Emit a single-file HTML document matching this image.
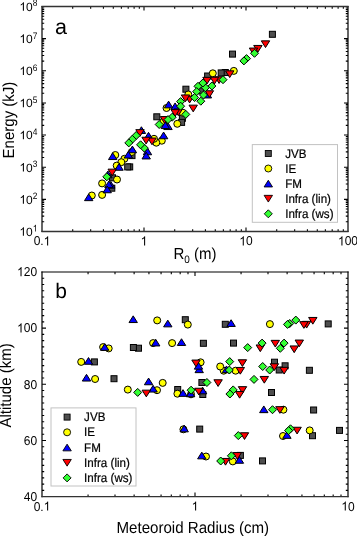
<!DOCTYPE html>
<html><head><meta charset="utf-8"><style>
html,body{margin:0;padding:0;background:#fff;}
body{width:357px;height:536px;overflow:hidden;}
svg{display:block;}
</style></head><body>
<svg width="357" height="536" viewBox="0 0 357 536">
<rect width="357" height="536" fill="#fff"/>
<path d="M72.71 231.5v-2.2M72.71 6.5v2.2M90.67 231.5v-2.2M90.67 6.5v2.2M103.41 231.5v-2.2M103.41 6.5v2.2M113.29 231.5v-2.2M113.29 6.5v2.2M121.37 231.5v-2.2M121.37 6.5v2.2M128.20 231.5v-2.2M128.20 6.5v2.2M134.12 231.5v-2.2M134.12 6.5v2.2M139.33 231.5v-2.2M139.33 6.5v2.2M144.00 231.5v-4.0M144.00 6.5v4.0M174.71 231.5v-2.2M174.71 6.5v2.2M192.67 231.5v-2.2M192.67 6.5v2.2M205.41 231.5v-2.2M205.41 6.5v2.2M215.29 231.5v-2.2M215.29 6.5v2.2M223.37 231.5v-2.2M223.37 6.5v2.2M230.20 231.5v-2.2M230.20 6.5v2.2M236.12 231.5v-2.2M236.12 6.5v2.2M241.33 231.5v-2.2M241.33 6.5v2.2M246.00 231.5v-4.0M246.00 6.5v4.0M276.71 231.5v-2.2M276.71 6.5v2.2M294.67 231.5v-2.2M294.67 6.5v2.2M307.41 231.5v-2.2M307.41 6.5v2.2M317.29 231.5v-2.2M317.29 6.5v2.2M325.37 231.5v-2.2M325.37 6.5v2.2M332.20 231.5v-2.2M332.20 6.5v2.2M338.12 231.5v-2.2M338.12 6.5v2.2M343.33 231.5v-2.2M343.33 6.5v2.2M42.0 221.82h2.2M348.0 221.82h-2.2M42.0 216.16h2.2M348.0 216.16h-2.2M42.0 212.15h2.2M348.0 212.15h-2.2M42.0 209.03h2.2M348.0 209.03h-2.2M42.0 206.49h2.2M348.0 206.49h-2.2M42.0 204.34h2.2M348.0 204.34h-2.2M42.0 202.47h2.2M348.0 202.47h-2.2M42.0 200.83h2.2M348.0 200.83h-2.2M42.0 199.36h4.0M348.0 199.36h-4.0M42.0 189.68h2.2M348.0 189.68h-2.2M42.0 184.02h2.2M348.0 184.02h-2.2M42.0 180.01h2.2M348.0 180.01h-2.2M42.0 176.89h2.2M348.0 176.89h-2.2M42.0 174.35h2.2M348.0 174.35h-2.2M42.0 172.19h2.2M348.0 172.19h-2.2M42.0 170.33h2.2M348.0 170.33h-2.2M42.0 168.69h2.2M348.0 168.69h-2.2M42.0 167.21h4.0M348.0 167.21h-4.0M42.0 157.54h2.2M348.0 157.54h-2.2M42.0 151.88h2.2M348.0 151.88h-2.2M42.0 147.86h2.2M348.0 147.86h-2.2M42.0 144.75h2.2M348.0 144.75h-2.2M42.0 142.20h2.2M348.0 142.20h-2.2M42.0 140.05h2.2M348.0 140.05h-2.2M42.0 138.19h2.2M348.0 138.19h-2.2M42.0 136.54h2.2M348.0 136.54h-2.2M42.0 135.07h4.0M348.0 135.07h-4.0M42.0 125.40h2.2M348.0 125.40h-2.2M42.0 119.74h2.2M348.0 119.74h-2.2M42.0 115.72h2.2M348.0 115.72h-2.2M42.0 112.60h2.2M348.0 112.60h-2.2M42.0 110.06h2.2M348.0 110.06h-2.2M42.0 107.91h2.2M348.0 107.91h-2.2M42.0 106.04h2.2M348.0 106.04h-2.2M42.0 104.40h2.2M348.0 104.40h-2.2M42.0 102.93h4.0M348.0 102.93h-4.0M42.0 93.25h2.2M348.0 93.25h-2.2M42.0 87.59h2.2M348.0 87.59h-2.2M42.0 83.58h2.2M348.0 83.58h-2.2M42.0 80.46h2.2M348.0 80.46h-2.2M42.0 77.92h2.2M348.0 77.92h-2.2M42.0 75.76h2.2M348.0 75.76h-2.2M42.0 73.90h2.2M348.0 73.90h-2.2M42.0 72.26h2.2M348.0 72.26h-2.2M42.0 70.79h4.0M348.0 70.79h-4.0M42.0 61.11h2.2M348.0 61.11h-2.2M42.0 55.45h2.2M348.0 55.45h-2.2M42.0 51.43h2.2M348.0 51.43h-2.2M42.0 48.32h2.2M348.0 48.32h-2.2M42.0 45.77h2.2M348.0 45.77h-2.2M42.0 43.62h2.2M348.0 43.62h-2.2M42.0 41.76h2.2M348.0 41.76h-2.2M42.0 40.11h2.2M348.0 40.11h-2.2M42.0 38.64h4.0M348.0 38.64h-4.0M42.0 28.97h2.2M348.0 28.97h-2.2M42.0 23.31h2.2M348.0 23.31h-2.2M42.0 19.29h2.2M348.0 19.29h-2.2M42.0 16.18h2.2M348.0 16.18h-2.2M42.0 13.63h2.2M348.0 13.63h-2.2M42.0 11.48h2.2M348.0 11.48h-2.2M42.0 9.61h2.2M348.0 9.61h-2.2M42.0 7.97h2.2M348.0 7.97h-2.2" stroke="#000" stroke-width="1.1" fill="none"/>
<path d="M88.06 496.6v-2.2M88.06 272.0v2.2M115.00 496.6v-2.2M115.00 272.0v2.2M134.12 496.6v-2.2M134.12 272.0v2.2M148.94 496.6v-2.2M148.94 272.0v2.2M161.06 496.6v-2.2M161.06 272.0v2.2M171.30 496.6v-2.2M171.30 272.0v2.2M180.17 496.6v-2.2M180.17 272.0v2.2M188.00 496.6v-2.2M188.00 272.0v2.2M195.00 496.6v-4.0M195.00 272.0v4.0M241.06 496.6v-2.2M241.06 272.0v2.2M268.00 496.6v-2.2M268.00 272.0v2.2M287.12 496.6v-2.2M287.12 272.0v2.2M301.94 496.6v-2.2M301.94 272.0v2.2M314.06 496.6v-2.2M314.06 272.0v2.2M324.30 496.6v-2.2M324.30 272.0v2.2M333.17 496.6v-2.2M333.17 272.0v2.2M341.00 496.6v-2.2M341.00 272.0v2.2M42.0 490.36h2.2M348.0 490.36h-2.2M42.0 484.12h2.2M348.0 484.12h-2.2M42.0 477.88h2.2M348.0 477.88h-2.2M42.0 471.64h2.2M348.0 471.64h-2.2M42.0 465.41h2.2M348.0 465.41h-2.2M42.0 459.17h2.2M348.0 459.17h-2.2M42.0 452.93h2.2M348.0 452.93h-2.2M42.0 446.69h2.2M348.0 446.69h-2.2M42.0 440.45h4.0M348.0 440.45h-4.0M42.0 434.21h2.2M348.0 434.21h-2.2M42.0 427.97h2.2M348.0 427.97h-2.2M42.0 421.73h2.2M348.0 421.73h-2.2M42.0 415.49h2.2M348.0 415.49h-2.2M42.0 409.26h2.2M348.0 409.26h-2.2M42.0 403.02h2.2M348.0 403.02h-2.2M42.0 396.78h2.2M348.0 396.78h-2.2M42.0 390.54h2.2M348.0 390.54h-2.2M42.0 384.30h4.0M348.0 384.30h-4.0M42.0 378.06h2.2M348.0 378.06h-2.2M42.0 371.82h2.2M348.0 371.82h-2.2M42.0 365.58h2.2M348.0 365.58h-2.2M42.0 359.34h2.2M348.0 359.34h-2.2M42.0 353.11h2.2M348.0 353.11h-2.2M42.0 346.87h2.2M348.0 346.87h-2.2M42.0 340.63h2.2M348.0 340.63h-2.2M42.0 334.39h2.2M348.0 334.39h-2.2M42.0 328.15h4.0M348.0 328.15h-4.0M42.0 321.91h2.2M348.0 321.91h-2.2M42.0 315.67h2.2M348.0 315.67h-2.2M42.0 309.43h2.2M348.0 309.43h-2.2M42.0 303.19h2.2M348.0 303.19h-2.2M42.0 296.96h2.2M348.0 296.96h-2.2M42.0 290.72h2.2M348.0 290.72h-2.2M42.0 284.48h2.2M348.0 284.48h-2.2M42.0 278.24h2.2M348.0 278.24h-2.2" stroke="#000" stroke-width="1.1" fill="none"/>
<g stroke="#000" stroke-width="1" stroke-linejoin="miter">
<rect x="269.40" y="31.30" width="6.00" height="6.00" fill="#4e4e4e"/>
<rect x="229.50" y="51.10" width="6.00" height="6.00" fill="#4e4e4e"/>
<rect x="222.30" y="69.50" width="6.00" height="6.00" fill="#4e4e4e"/>
<rect x="218.20" y="69.90" width="6.00" height="6.00" fill="#4e4e4e"/>
<rect x="204.60" y="73.00" width="6.00" height="6.00" fill="#4e4e4e"/>
<rect x="197.60" y="87.80" width="6.00" height="6.00" fill="#4e4e4e"/>
<rect x="182.90" y="86.20" width="6.00" height="6.00" fill="#4e4e4e"/>
<rect x="179.40" y="115.30" width="6.00" height="6.00" fill="#4e4e4e"/>
<rect x="178.60" y="119.40" width="6.00" height="6.00" fill="#4e4e4e"/>
<rect x="153.80" y="113.80" width="6.00" height="6.00" fill="#4e4e4e"/>
<rect x="129.00" y="152.60" width="6.00" height="6.00" fill="#4e4e4e"/>
<rect x="126.70" y="163.90" width="6.00" height="6.00" fill="#4e4e4e"/>
<rect x="124.70" y="163.90" width="6.00" height="6.00" fill="#4e4e4e"/>
<rect x="109.50" y="174.80" width="6.00" height="6.00" fill="#4e4e4e"/>
<rect x="108.80" y="185.20" width="6.00" height="6.00" fill="#4e4e4e"/>
<circle cx="233.80" cy="70.90" r="3.50" fill="#ffff00"/>
<circle cx="212.80" cy="73.30" r="3.50" fill="#ffff00"/>
<circle cx="188.30" cy="94.50" r="3.50" fill="#ffff00"/>
<circle cx="182.80" cy="112.70" r="3.50" fill="#ffff00"/>
<circle cx="177.30" cy="123.80" r="3.50" fill="#ffff00"/>
<circle cx="166.50" cy="108.00" r="3.50" fill="#ffff00"/>
<circle cx="163.30" cy="121.80" r="3.50" fill="#ffff00"/>
<circle cx="161.80" cy="140.70" r="3.50" fill="#ffff00"/>
<circle cx="156.30" cy="142.70" r="3.50" fill="#ffff00"/>
<circle cx="154.00" cy="138.80" r="3.50" fill="#ffff00"/>
<circle cx="131.80" cy="152.00" r="3.50" fill="#ffff00"/>
<circle cx="124.40" cy="158.80" r="3.50" fill="#ffff00"/>
<circle cx="121.30" cy="162.20" r="3.50" fill="#ffff00"/>
<circle cx="117.00" cy="179.50" r="3.50" fill="#ffff00"/>
<circle cx="116.70" cy="165.60" r="3.50" fill="#ffff00"/>
<circle cx="115.30" cy="155.00" r="3.50" fill="#ffff00"/>
<circle cx="102.10" cy="194.90" r="3.50" fill="#ffff00"/>
<circle cx="102.10" cy="183.40" r="3.50" fill="#ffff00"/>
<circle cx="91.80" cy="195.50" r="3.50" fill="#ffff00"/>
<path d="M207.40 91.25L211.60 97.95L203.20 97.95Z" fill="#0000ff"/>
<path d="M175.10 102.95L179.30 109.65L170.90 109.65Z" fill="#0000ff"/>
<path d="M168.60 101.15L172.80 107.85L164.40 107.85Z" fill="#0000ff"/>
<path d="M168.00 122.85L172.20 129.55L163.80 129.55Z" fill="#0000ff"/>
<path d="M165.30 121.85L169.50 128.55L161.10 128.55Z" fill="#0000ff"/>
<path d="M163.60 132.05L167.80 138.75L159.40 138.75Z" fill="#0000ff"/>
<path d="M148.50 132.35L152.70 139.05L144.30 139.05Z" fill="#0000ff"/>
<path d="M147.50 148.05L151.70 154.75L143.30 154.75Z" fill="#0000ff"/>
<path d="M146.20 152.25L150.40 158.95L142.00 158.95Z" fill="#0000ff"/>
<path d="M141.40 126.75L145.60 133.45L137.20 133.45Z" fill="#0000ff"/>
<path d="M132.40 146.05L136.60 152.75L128.20 152.75Z" fill="#0000ff"/>
<path d="M128.30 151.35L132.50 158.05L124.10 158.05Z" fill="#0000ff"/>
<path d="M119.00 163.55L123.20 170.25L114.80 170.25Z" fill="#0000ff"/>
<path d="M112.70 152.85L116.90 159.55L108.50 159.55Z" fill="#0000ff"/>
<path d="M110.80 181.45L115.00 188.15L106.60 188.15Z" fill="#0000ff"/>
<path d="M108.90 180.95L113.10 187.65L104.70 187.65Z" fill="#0000ff"/>
<path d="M107.90 171.05L112.10 177.75L103.70 177.75Z" fill="#0000ff"/>
<path d="M107.20 186.05L111.40 192.75L103.00 192.75Z" fill="#0000ff"/>
<path d="M88.70 193.95L92.90 200.65L84.50 200.65Z" fill="#0000ff"/>
<path d="M261.30 40.85L269.70 40.85L265.50 47.55Z" fill="#ff0000"/>
<path d="M253.70 45.45L262.10 45.45L257.90 52.15Z" fill="#ff0000"/>
<path d="M249.30 48.05L257.70 48.05L253.50 54.75Z" fill="#ff0000"/>
<path d="M225.50 70.85L233.90 70.85L229.70 77.55Z" fill="#ff0000"/>
<path d="M214.90 76.75L223.30 76.75L219.10 83.45Z" fill="#ff0000"/>
<path d="M210.30 77.25L218.70 77.25L214.50 83.95Z" fill="#ff0000"/>
<path d="M205.20 90.75L213.60 90.75L209.40 97.45Z" fill="#ff0000"/>
<path d="M202.80 77.35L211.20 77.35L207.00 84.05Z" fill="#ff0000"/>
<path d="M189.00 105.15L197.40 105.15L193.20 111.85Z" fill="#ff0000"/>
<path d="M185.40 96.25L193.80 96.25L189.60 102.95Z" fill="#ff0000"/>
<path d="M181.30 94.95L189.70 94.95L185.50 101.65Z" fill="#ff0000"/>
<path d="M174.10 108.95L182.50 108.95L178.30 115.65Z" fill="#ff0000"/>
<path d="M171.00 109.65L179.40 109.65L175.20 116.35Z" fill="#ff0000"/>
<path d="M160.30 116.55L168.70 116.55L164.50 123.25Z" fill="#ff0000"/>
<path d="M147.80 138.05L156.20 138.05L152.00 144.75Z" fill="#ff0000"/>
<path d="M141.90 137.25L150.30 137.25L146.10 143.95Z" fill="#ff0000"/>
<path d="M135.80 129.65L144.20 129.65L140.00 136.35Z" fill="#ff0000"/>
<path d="M108.00 169.15L116.40 169.15L112.20 175.85Z" fill="#ff0000"/>
<path d="M254.50 49.30L258.50 53.30L254.50 57.30L250.50 53.30Z" fill="#33ff33"/>
<path d="M246.50 54.60L250.50 58.60L246.50 62.60L242.50 58.60Z" fill="#33ff33"/>
<path d="M243.90 56.90L247.90 60.90L243.90 64.90L239.90 60.90Z" fill="#33ff33"/>
<path d="M223.00 75.70L227.00 79.70L223.00 83.70L219.00 79.70Z" fill="#33ff33"/>
<path d="M211.90 82.00L215.90 86.00L211.90 90.00L207.90 86.00Z" fill="#33ff33"/>
<path d="M205.40 83.70L209.40 87.70L205.40 91.70L201.40 87.70Z" fill="#33ff33"/>
<path d="M203.50 91.00L207.50 95.00L203.50 99.00L199.50 95.00Z" fill="#33ff33"/>
<path d="M202.90 79.00L206.90 83.00L202.90 87.00L198.90 83.00Z" fill="#33ff33"/>
<path d="M200.80 97.20L204.80 101.20L200.80 105.20L196.80 101.20Z" fill="#33ff33"/>
<path d="M198.00 82.30L202.00 86.30L198.00 90.30L194.00 86.30Z" fill="#33ff33"/>
<path d="M196.70 87.60L200.70 91.60L196.70 95.60L192.70 91.60Z" fill="#33ff33"/>
<path d="M194.60 93.50L198.60 97.50L194.60 101.50L190.60 97.50Z" fill="#33ff33"/>
<path d="M185.80 110.40L189.80 114.40L185.80 118.40L181.80 114.40Z" fill="#33ff33"/>
<path d="M180.60 97.60L184.60 101.60L180.60 105.60L176.60 101.60Z" fill="#33ff33"/>
<path d="M180.60 102.20L184.60 106.20L180.60 110.20L176.60 106.20Z" fill="#33ff33"/>
<path d="M172.20 113.20L176.20 117.20L172.20 121.20L168.20 117.20Z" fill="#33ff33"/>
<path d="M168.00 115.60L172.00 119.60L168.00 123.60L164.00 119.60Z" fill="#33ff33"/>
<path d="M159.20 120.50L163.20 124.50L159.20 128.50L155.20 124.50Z" fill="#33ff33"/>
<path d="M144.30 144.10L148.30 148.10L144.30 152.10L140.30 148.10Z" fill="#33ff33"/>
<path d="M140.60 140.80L144.60 144.80L140.60 148.80L136.60 144.80Z" fill="#33ff33"/>
<path d="M136.20 131.50L140.20 135.50L136.20 139.50L132.20 135.50Z" fill="#33ff33"/>
<path d="M132.30 135.30L136.30 139.30L132.30 143.30L128.30 139.30Z" fill="#33ff33"/>
<path d="M128.80 138.90L132.80 142.90L128.80 146.90L124.80 142.90Z" fill="#33ff33"/>
<path d="M106.80 172.80L110.80 176.80L106.80 180.80L102.80 176.80Z" fill="#33ff33"/>
<rect x="336.50" y="427.40" width="6.00" height="6.00" fill="#4e4e4e"/>
<rect x="325.20" y="320.90" width="6.00" height="6.00" fill="#4e4e4e"/>
<rect x="310.60" y="407.00" width="6.00" height="6.00" fill="#4e4e4e"/>
<rect x="309.50" y="432.70" width="6.00" height="6.00" fill="#4e4e4e"/>
<rect x="306.40" y="367.30" width="6.00" height="6.00" fill="#4e4e4e"/>
<rect x="282.10" y="362.80" width="6.00" height="6.00" fill="#4e4e4e"/>
<rect x="276.20" y="367.00" width="6.00" height="6.00" fill="#4e4e4e"/>
<rect x="271.50" y="359.20" width="6.00" height="6.00" fill="#4e4e4e"/>
<rect x="268.50" y="389.50" width="6.00" height="6.00" fill="#4e4e4e"/>
<rect x="259.50" y="457.90" width="6.00" height="6.00" fill="#4e4e4e"/>
<rect x="237.40" y="452.40" width="6.00" height="6.00" fill="#4e4e4e"/>
<rect x="230.50" y="340.10" width="6.00" height="6.00" fill="#4e4e4e"/>
<rect x="222.30" y="321.30" width="6.00" height="6.00" fill="#4e4e4e"/>
<rect x="200.40" y="340.30" width="6.00" height="6.00" fill="#4e4e4e"/>
<rect x="199.80" y="391.50" width="6.00" height="6.00" fill="#4e4e4e"/>
<rect x="198.90" y="379.50" width="6.00" height="6.00" fill="#4e4e4e"/>
<rect x="196.70" y="426.10" width="6.00" height="6.00" fill="#4e4e4e"/>
<rect x="182.30" y="316.70" width="6.00" height="6.00" fill="#4e4e4e"/>
<rect x="174.70" y="386.50" width="6.00" height="6.00" fill="#4e4e4e"/>
<rect x="135.50" y="345.20" width="6.00" height="6.00" fill="#4e4e4e"/>
<rect x="130.40" y="344.50" width="6.00" height="6.00" fill="#4e4e4e"/>
<rect x="111.00" y="375.70" width="6.00" height="6.00" fill="#4e4e4e"/>
<rect x="91.40" y="358.90" width="6.00" height="6.00" fill="#4e4e4e"/>
<circle cx="309.70" cy="430.40" r="3.50" fill="#ffff00"/>
<circle cx="283.40" cy="409.70" r="3.50" fill="#ffff00"/>
<circle cx="283.00" cy="436.00" r="3.50" fill="#ffff00"/>
<circle cx="269.90" cy="324.10" r="3.50" fill="#ffff00"/>
<circle cx="235.60" cy="370.70" r="3.50" fill="#ffff00"/>
<circle cx="232.80" cy="461.40" r="3.50" fill="#ffff00"/>
<circle cx="223.70" cy="370.70" r="3.50" fill="#ffff00"/>
<circle cx="220.20" cy="366.50" r="3.50" fill="#ffff00"/>
<circle cx="206.00" cy="456.50" r="3.50" fill="#ffff00"/>
<circle cx="200.60" cy="362.30" r="3.50" fill="#ffff00"/>
<circle cx="191.00" cy="394.30" r="3.50" fill="#ffff00"/>
<circle cx="187.80" cy="324.60" r="3.50" fill="#ffff00"/>
<circle cx="183.40" cy="429.30" r="3.50" fill="#ffff00"/>
<circle cx="177.40" cy="393.70" r="3.50" fill="#ffff00"/>
<circle cx="172.10" cy="343.10" r="3.50" fill="#ffff00"/>
<circle cx="162.70" cy="382.90" r="3.50" fill="#ffff00"/>
<circle cx="157.20" cy="320.40" r="3.50" fill="#ffff00"/>
<circle cx="157.00" cy="390.20" r="3.50" fill="#ffff00"/>
<circle cx="153.10" cy="343.10" r="3.50" fill="#ffff00"/>
<circle cx="127.80" cy="389.60" r="3.50" fill="#ffff00"/>
<circle cx="108.70" cy="348.40" r="3.50" fill="#ffff00"/>
<circle cx="103.10" cy="347.10" r="3.50" fill="#ffff00"/>
<circle cx="95.10" cy="379.00" r="3.50" fill="#ffff00"/>
<circle cx="81.20" cy="361.90" r="3.50" fill="#ffff00"/>
<path d="M286.90 431.65L291.10 438.35L282.70 438.35Z" fill="#0000ff"/>
<path d="M263.80 405.95L268.00 412.65L259.60 412.65Z" fill="#0000ff"/>
<path d="M239.40 456.55L243.60 463.25L235.20 463.25Z" fill="#0000ff"/>
<path d="M231.10 319.75L235.30 326.45L226.90 326.45Z" fill="#0000ff"/>
<path d="M226.50 365.95L230.70 372.65L222.30 372.65Z" fill="#0000ff"/>
<path d="M202.60 387.15L206.80 393.85L198.40 393.85Z" fill="#0000ff"/>
<path d="M201.80 452.15L206.00 458.85L197.60 458.85Z" fill="#0000ff"/>
<path d="M199.20 365.95L203.40 372.65L195.00 372.65Z" fill="#0000ff"/>
<path d="M198.50 362.45L202.70 369.15L194.30 369.15Z" fill="#0000ff"/>
<path d="M190.60 390.05L194.80 396.75L186.40 396.75Z" fill="#0000ff"/>
<path d="M184.20 425.15L188.40 431.85L180.00 431.85Z" fill="#0000ff"/>
<path d="M183.00 389.65L187.20 396.35L178.80 396.35Z" fill="#0000ff"/>
<path d="M181.50 338.75L185.70 345.45L177.30 345.45Z" fill="#0000ff"/>
<path d="M167.80 320.15L172.00 326.85L163.60 326.85Z" fill="#0000ff"/>
<path d="M155.70 339.25L159.90 345.95L151.50 345.95Z" fill="#0000ff"/>
<path d="M153.10 385.35L157.30 392.05L148.90 392.05Z" fill="#0000ff"/>
<path d="M148.60 378.05L152.80 384.75L144.40 384.75Z" fill="#0000ff"/>
<path d="M133.20 315.85L137.40 322.55L129.00 322.55Z" fill="#0000ff"/>
<path d="M104.70 343.65L108.90 350.35L100.50 350.35Z" fill="#0000ff"/>
<path d="M88.50 357.55L92.70 364.25L84.30 364.25Z" fill="#0000ff"/>
<path d="M86.50 374.35L90.70 381.05L82.30 381.05Z" fill="#0000ff"/>
<path d="M308.60 317.45L317.00 317.45L312.80 324.15Z" fill="#ff0000"/>
<path d="M302.40 321.35L310.80 321.35L306.60 328.05Z" fill="#ff0000"/>
<path d="M299.70 321.65L308.10 321.65L303.90 328.35Z" fill="#ff0000"/>
<path d="M295.10 340.05L303.50 340.05L299.30 346.75Z" fill="#ff0000"/>
<path d="M292.90 427.25L301.30 427.25L297.10 433.95Z" fill="#ff0000"/>
<path d="M290.00 345.95L298.40 345.95L294.20 352.65Z" fill="#ff0000"/>
<path d="M279.90 367.35L288.30 367.35L284.10 374.05Z" fill="#ff0000"/>
<path d="M275.70 406.65L284.10 406.65L279.90 413.35Z" fill="#ff0000"/>
<path d="M271.10 340.35L279.50 340.35L275.30 347.05Z" fill="#ff0000"/>
<path d="M270.20 363.75L278.60 363.75L274.40 370.45Z" fill="#ff0000"/>
<path d="M260.10 376.45L268.50 376.45L264.30 383.15Z" fill="#ff0000"/>
<path d="M256.10 344.95L264.50 344.95L260.30 351.65Z" fill="#ff0000"/>
<path d="M240.30 432.75L248.70 432.75L244.50 439.45Z" fill="#ff0000"/>
<path d="M238.30 386.65L246.70 386.65L242.50 393.35Z" fill="#ff0000"/>
<path d="M238.20 359.75L246.60 359.75L242.40 366.45Z" fill="#ff0000"/>
<path d="M236.10 367.45L244.50 367.45L240.30 374.15Z" fill="#ff0000"/>
<path d="M235.40 391.45L243.80 391.45L239.60 398.15Z" fill="#ff0000"/>
<path d="M233.10 452.55L241.50 452.55L237.30 459.25Z" fill="#ff0000"/>
<path d="M221.30 458.45L229.70 458.45L225.50 465.15Z" fill="#ff0000"/>
<path d="M213.90 379.75L222.30 379.75L218.10 386.45Z" fill="#ff0000"/>
<path d="M194.60 388.25L203.00 388.25L198.80 394.95Z" fill="#ff0000"/>
<path d="M191.80 360.05L200.20 360.05L196.00 366.75Z" fill="#ff0000"/>
<path d="M142.10 390.15L150.50 390.15L146.30 396.85Z" fill="#ff0000"/>
<path d="M295.80 316.10L299.80 320.10L295.80 324.10L291.80 320.10Z" fill="#33ff33"/>
<path d="M290.50 424.80L294.50 428.80L290.50 432.80L286.50 428.80Z" fill="#33ff33"/>
<path d="M289.70 319.50L293.70 323.50L289.70 327.50L285.70 323.50Z" fill="#33ff33"/>
<path d="M288.60 426.60L292.60 430.60L288.60 434.60L284.60 430.60Z" fill="#33ff33"/>
<path d="M287.50 320.40L291.50 324.40L287.50 328.40L283.50 324.40Z" fill="#33ff33"/>
<path d="M284.10 339.10L288.10 343.10L284.10 347.10L280.10 343.10Z" fill="#33ff33"/>
<path d="M280.30 344.30L284.30 348.30L280.30 352.30L276.30 348.30Z" fill="#33ff33"/>
<path d="M272.50 405.70L276.50 409.70L272.50 413.70L268.50 409.70Z" fill="#33ff33"/>
<path d="M269.70 366.00L273.70 370.00L269.70 374.00L265.70 370.00Z" fill="#33ff33"/>
<path d="M262.70 362.50L266.70 366.50L262.70 370.50L258.70 366.50Z" fill="#33ff33"/>
<path d="M262.10 339.10L266.10 343.10L262.10 347.10L258.10 343.10Z" fill="#33ff33"/>
<path d="M254.00 375.40L258.00 379.40L254.00 383.40L250.00 379.40Z" fill="#33ff33"/>
<path d="M247.70 343.60L251.70 347.60L247.70 351.60L243.70 347.60Z" fill="#33ff33"/>
<path d="M238.30 431.60L242.30 435.60L238.30 439.60L234.30 435.60Z" fill="#33ff33"/>
<path d="M233.20 385.90L237.20 389.90L233.20 393.90L229.20 389.90Z" fill="#33ff33"/>
<path d="M231.40 451.80L235.40 455.80L231.40 459.80L227.40 455.80Z" fill="#33ff33"/>
<path d="M229.90 390.00L233.90 394.00L229.90 398.00L225.90 394.00Z" fill="#33ff33"/>
<path d="M229.70 357.60L233.70 361.60L229.70 365.60L225.70 361.60Z" fill="#33ff33"/>
<path d="M229.30 366.00L233.30 370.00L229.30 374.00L225.30 370.00Z" fill="#33ff33"/>
<path d="M220.70 457.00L224.70 461.00L220.70 465.00L216.70 461.00Z" fill="#33ff33"/>
<path d="M206.90 378.50L210.90 382.50L206.90 386.50L202.90 382.50Z" fill="#33ff33"/>
<path d="M191.10 386.20L195.10 390.20L191.10 394.20L187.10 390.20Z" fill="#33ff33"/>
<path d="M137.70 388.40L141.70 392.40L137.70 396.40L133.70 392.40Z" fill="#33ff33"/>
</g>
<rect x="252.3" y="144.6" width="85.19999999999999" height="77.70000000000002" fill="#fff" stroke="#c2c2c2" stroke-width="1"/>
<g stroke="#000" stroke-width="0.9">
<rect x="265.30" y="150.50" width="6.00" height="6.00" fill="#4e4e4e"/>
<circle cx="268.30" cy="168.50" r="3.50" fill="#ffff00"/>
<path d="M268.30 180.25L272.50 186.95L264.10 186.95Z" fill="#0000ff"/>
<path d="M264.10 195.35L272.50 195.35L268.30 202.05Z" fill="#ff0000"/>
<path d="M268.30 209.80L272.30 213.80L268.30 217.80L264.30 213.80Z" fill="#33ff33"/>
</g>
<rect x="51.0" y="407.9" width="85.0" height="78.10000000000002" fill="#fff" stroke="#c2c2c2" stroke-width="1"/>
<g stroke="#000" stroke-width="0.9">
<rect x="64.10" y="414.10" width="6.00" height="6.00" fill="#4e4e4e"/>
<circle cx="67.10" cy="432.30" r="3.50" fill="#ffff00"/>
<path d="M67.10 444.15L71.30 450.85L62.90 450.85Z" fill="#0000ff"/>
<path d="M62.90 459.45L71.30 459.45L67.10 466.15Z" fill="#ff0000"/>
<path d="M67.10 473.90L71.10 477.90L67.10 481.90L63.10 477.90Z" fill="#33ff33"/>
</g>
<path d="M42.0 232.1V5.9M348.0 232.1V5.9" stroke="#000" stroke-width="1.2" fill="none"/>
<path d="M41.4 231.5H348.6" stroke="#333" stroke-width="1.3" fill="none"/>
<path d="M41.4 6.5H348.6" stroke="#333" stroke-width="1.3" fill="none"/>
<path d="M42.0 497.20000000000005V271.4M348.0 497.20000000000005V271.4" stroke="#000" stroke-width="1.2" fill="none"/>
<path d="M41.4 496.6H348.6" stroke="#333" stroke-width="1.3" fill="none"/>
<path d="M41.4 272.0H348.6" stroke="#000" stroke-width="1.2" fill="none"/>
<g font-family='"Liberation Sans", sans-serif' fill="#000" text-rendering="geometricPrecision" style="filter:grayscale(1)">
<text transform="translate(285.2 157.60) scale(1 1.08)" font-size="11.6" stroke="#000" stroke-width="0.2">JVB</text>
<text transform="translate(285.2 172.60) scale(1 1.08)" font-size="11.6" stroke="#000" stroke-width="0.2">IE</text>
<text transform="translate(285.2 187.70) scale(1 1.08)" font-size="11.6" stroke="#000" stroke-width="0.2">FM</text>
<text transform="translate(285.2 202.80) scale(1 1.08)" font-size="11.6" stroke="#000" stroke-width="0.2">Infra (lin)</text>
<text transform="translate(285.2 217.90) scale(1 1.08)" font-size="11.6" stroke="#000" stroke-width="0.2">Infra (ws)</text>
<text transform="translate(84.1 421.20) scale(1 1.08)" font-size="11.6" stroke="#000" stroke-width="0.2">JVB</text>
<text transform="translate(84.1 436.40) scale(1 1.08)" font-size="11.6" stroke="#000" stroke-width="0.2">IE</text>
<text transform="translate(84.1 451.60) scale(1 1.08)" font-size="11.6" stroke="#000" stroke-width="0.2">FM</text>
<text transform="translate(84.1 466.90) scale(1 1.08)" font-size="11.6" stroke="#000" stroke-width="0.2">Infra (lin)</text>
<text transform="translate(84.1 482.00) scale(1 1.08)" font-size="11.6" stroke="#000" stroke-width="0.2">Infra (ws)</text>
<text transform="translate(42.00 245.40) scale(1 1.07)" font-size="12" text-anchor="middle">0. </text>
<text transform="translate(144.00 245.40) scale(1 1.07)" font-size="12" text-anchor="middle"> </text>
<text transform="translate(246.00 245.40) scale(1 1.07)" font-size="12" text-anchor="middle"> 0</text>
<text transform="translate(348.00 245.40) scale(1 1.07)" font-size="12" text-anchor="middle"> 00</text>
<text x="32.80" y="235.80" font-size="12" text-anchor="end"> 0</text>
<text transform="translate(32.80 231.40) scale(1 1.12)" font-size="8.4" text-anchor="start"> </text>
<text x="32.80" y="203.66" font-size="12" text-anchor="end"> 0</text>
<text transform="translate(32.80 199.26) scale(1 1.12)" font-size="8.4" text-anchor="start">2</text>
<text x="32.80" y="171.51" font-size="12" text-anchor="end"> 0</text>
<text transform="translate(32.80 167.11) scale(1 1.12)" font-size="8.4" text-anchor="start">3</text>
<text x="32.80" y="139.37" font-size="12" text-anchor="end"> 0</text>
<text transform="translate(32.80 134.97) scale(1 1.12)" font-size="8.4" text-anchor="start">4</text>
<text x="32.80" y="107.23" font-size="12" text-anchor="end"> 0</text>
<text transform="translate(32.80 102.83) scale(1 1.12)" font-size="8.4" text-anchor="start">5</text>
<text x="32.80" y="75.09" font-size="12" text-anchor="end"> 0</text>
<text transform="translate(32.80 70.69) scale(1 1.12)" font-size="8.4" text-anchor="start">6</text>
<text x="32.80" y="42.94" font-size="12" text-anchor="end"> 0</text>
<text transform="translate(32.80 38.54) scale(1 1.12)" font-size="8.4" text-anchor="start">7</text>
<text x="32.80" y="10.80" font-size="12" text-anchor="end"> 0</text>
<text transform="translate(32.80 6.40) scale(1 1.12)" font-size="8.4" text-anchor="start">8</text>
<text transform="translate(42.00 510.60) scale(1 1.07)" font-size="12" text-anchor="middle">0. </text>
<text transform="translate(195.00 510.60) scale(1 1.07)" font-size="12" text-anchor="middle"> </text>
<text transform="translate(348.00 510.60) scale(1 1.07)" font-size="12" text-anchor="middle"> 0</text>
<text transform="translate(37.10 500.90) scale(1 1.07)" font-size="12" text-anchor="end">40</text>
<text transform="translate(37.10 444.75) scale(1 1.07)" font-size="12" text-anchor="end">60</text>
<text transform="translate(37.10 388.60) scale(1 1.07)" font-size="12" text-anchor="end">80</text>
<text transform="translate(37.10 332.45) scale(1 1.07)" font-size="12" text-anchor="end"> 00</text>
<text transform="translate(37.10 276.30) scale(1 1.07)" font-size="12" text-anchor="end"> 20</text>
<path d="M763 0L583 0L583 1147Q500 1068 395 1006Q290 944 222 916L222 1088Q380 1161 498 1267Q600 1360 646 1466L763 1466Z" transform="translate(43.67 245.40) scale(0.00586 -0.00627)"/><path d="M763 0L583 0L583 1147Q500 1068 395 1006Q290 944 222 916L222 1088Q380 1161 498 1267Q600 1360 646 1466L763 1466Z" transform="translate(140.66 245.40) scale(0.00586 -0.00627)"/><path d="M763 0L583 0L583 1147Q500 1068 395 1006Q290 944 222 916L222 1088Q380 1161 498 1267Q600 1360 646 1466L763 1466Z" transform="translate(239.33 245.40) scale(0.00586 -0.00627)"/><path d="M763 0L583 0L583 1147Q500 1068 395 1006Q290 944 222 916L222 1088Q380 1161 498 1267Q600 1360 646 1466L763 1466Z" transform="translate(337.99 245.40) scale(0.00586 -0.00627)"/><path d="M763 0L583 0L583 1147Q500 1068 395 1006Q290 944 222 916L222 1088Q380 1161 498 1267Q600 1360 646 1466L763 1466Z" transform="translate(19.45 235.80) scale(0.00586 -0.00586)"/><path d="M763 0L583 0L583 1147Q500 1068 395 1006Q290 944 222 916L222 1088Q380 1161 498 1267Q600 1360 646 1466L763 1466Z" transform="translate(32.80 231.40) scale(0.00410 -0.00459)"/><path d="M763 0L583 0L583 1147Q500 1068 395 1006Q290 944 222 916L222 1088Q380 1161 498 1267Q600 1360 646 1466L763 1466Z" transform="translate(19.45 203.66) scale(0.00586 -0.00586)"/><path d="M763 0L583 0L583 1147Q500 1068 395 1006Q290 944 222 916L222 1088Q380 1161 498 1267Q600 1360 646 1466L763 1466Z" transform="translate(19.45 171.51) scale(0.00586 -0.00586)"/><path d="M763 0L583 0L583 1147Q500 1068 395 1006Q290 944 222 916L222 1088Q380 1161 498 1267Q600 1360 646 1466L763 1466Z" transform="translate(19.45 139.37) scale(0.00586 -0.00586)"/><path d="M763 0L583 0L583 1147Q500 1068 395 1006Q290 944 222 916L222 1088Q380 1161 498 1267Q600 1360 646 1466L763 1466Z" transform="translate(19.45 107.23) scale(0.00586 -0.00586)"/><path d="M763 0L583 0L583 1147Q500 1068 395 1006Q290 944 222 916L222 1088Q380 1161 498 1267Q600 1360 646 1466L763 1466Z" transform="translate(19.45 75.09) scale(0.00586 -0.00586)"/><path d="M763 0L583 0L583 1147Q500 1068 395 1006Q290 944 222 916L222 1088Q380 1161 498 1267Q600 1360 646 1466L763 1466Z" transform="translate(19.45 42.94) scale(0.00586 -0.00586)"/><path d="M763 0L583 0L583 1147Q500 1068 395 1006Q290 944 222 916L222 1088Q380 1161 498 1267Q600 1360 646 1466L763 1466Z" transform="translate(19.45 10.80) scale(0.00586 -0.00586)"/><path d="M763 0L583 0L583 1147Q500 1068 395 1006Q290 944 222 916L222 1088Q380 1161 498 1267Q600 1360 646 1466L763 1466Z" transform="translate(43.67 510.60) scale(0.00586 -0.00627)"/><path d="M763 0L583 0L583 1147Q500 1068 395 1006Q290 944 222 916L222 1088Q380 1161 498 1267Q600 1360 646 1466L763 1466Z" transform="translate(191.66 510.60) scale(0.00586 -0.00627)"/><path d="M763 0L583 0L583 1147Q500 1068 395 1006Q290 944 222 916L222 1088Q380 1161 498 1267Q600 1360 646 1466L763 1466Z" transform="translate(341.33 510.60) scale(0.00586 -0.00627)"/><path d="M763 0L583 0L583 1147Q500 1068 395 1006Q290 944 222 916L222 1088Q380 1161 498 1267Q600 1360 646 1466L763 1466Z" transform="translate(17.08 332.45) scale(0.00586 -0.00627)"/><path d="M763 0L583 0L583 1147Q500 1068 395 1006Q290 944 222 916L222 1088Q380 1161 498 1267Q600 1360 646 1466L763 1466Z" transform="translate(17.08 276.30) scale(0.00586 -0.00627)"/>
<text transform="translate(195 259.4) scale(1 1.07)" font-size="15" text-anchor="middle">R<tspan font-size="10" dy="3.3">0</tspan><tspan dy="-3.3"> (m)</tspan></text>
<text transform="translate(192.8 532.8) scale(1 1.07)" font-size="15.1" text-anchor="middle">Meteoroid Radius (cm)</text>
<text transform="translate(13.8 120.05) rotate(-90) scale(1 1.07)" font-size="15" text-anchor="middle">Energy (kJ)</text>
<text transform="translate(11.1 385.4) rotate(-90) scale(1 1.07)" font-size="15" text-anchor="middle">Altitude (km)</text>
<text x="55" y="34" font-size="21.5">a</text>
<text x="55.2" y="297.9" font-size="21">b</text>
</g>
</svg>
</body></html>
